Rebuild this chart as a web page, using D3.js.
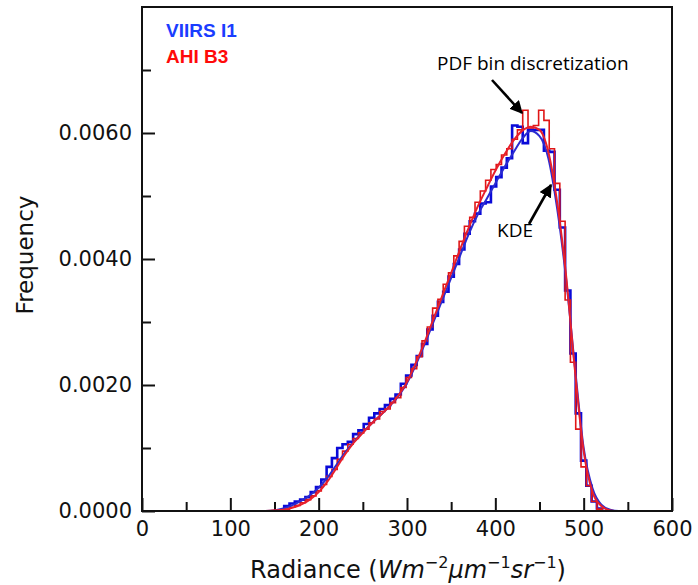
<!DOCTYPE html>
<html>
<head>
<meta charset="utf-8">
<script src="https://cdn.jsdelivr.net/npm/d3@7"></script>
<style>
  html, body { margin: 0; padding: 0; background: #ffffff; }
  svg { display: block; }
</style>
</head>
<body>
<svg id="chart" width="698" height="585"></svg>
<script>
// ---------- data ----------
const binStart = 161;
const binWidth = 6;
const viirsHist = [
  0.00008, 0.00012, 0.00015, 0.00018, 0.00022, 0.00030, 0.00038, 0.00050, 0.00070, 0.00084,
  0.00100, 0.00106, 0.00110, 0.00122, 0.00128, 0.00138, 0.00148, 0.00155, 0.00162, 0.00168,
  0.00178, 0.00185, 0.00202, 0.00215, 0.00232, 0.00246, 0.00265, 0.00288, 0.00310, 0.00332,
  0.00348, 0.00372, 0.00392, 0.00415, 0.00440, 0.00460, 0.00472, 0.00488, 0.00490, 0.00515,
  0.00530, 0.00545, 0.00560, 0.00612, 0.00610, 0.00584, 0.00605, 0.00605, 0.00605, 0.00572,
  0.00570, 0.00510, 0.00450, 0.00350, 0.00250, 0.00155, 0.00080, 0.00040, 0.00015, 0.00004
];
const ahiHist = [
  0.00003, 0.00006, 0.00009, 0.00013, 0.00018, 0.00024, 0.00032, 0.00042, 0.00055, 0.00066,
  0.00082, 0.00095, 0.00106, 0.00115, 0.00124, 0.00130, 0.00140, 0.00146, 0.00158, 0.00162,
  0.00172, 0.00180, 0.00196, 0.00212, 0.00226, 0.00245, 0.00270, 0.00292, 0.00322, 0.00336,
  0.00360, 0.00378, 0.00405, 0.00428, 0.00452, 0.00466, 0.00490, 0.00508, 0.00525, 0.00542,
  0.00550, 0.00565, 0.00575, 0.00590, 0.00605, 0.00636, 0.00608, 0.00612, 0.00636, 0.00620,
  0.00575, 0.00520, 0.00460, 0.00335, 0.00236, 0.00130, 0.00070, 0.00040, 0.00015, 0.00003
];
const kdeX = [
  140, 150, 160, 170, 180, 190, 200, 210, 220, 230, 240, 250, 260, 270, 280, 290, 300, 310, 320, 330,
  340, 350, 360, 370, 380, 390, 400, 410, 420, 430, 440, 450, 460, 470, 480, 490, 500, 510, 520, 530,
  540, 550
];
const viirsKde = [
  0, 0.00001, 0.00004, 0.00009, 0.00016, 0.00025, 0.00037, 0.00053, 0.00073, 0.00093,
  0.00110, 0.00125, 0.00139, 0.00152, 0.00166, 0.00182, 0.00203, 0.00232, 0.00265, 0.00300,
  0.00335, 0.00370, 0.00405, 0.00440, 0.00470, 0.00495, 0.00520, 0.00545, 0.00568, 0.00590,
  0.00603, 0.00595, 0.00560, 0.00480, 0.00370, 0.00230, 0.00100, 0.00036, 0.00010, 0.00002,
  0, 0
];
const ahiKde = [
  0, 0.00001, 0.00002, 0.00005, 0.00010, 0.00018, 0.00030, 0.00047, 0.00068, 0.00090,
  0.00109, 0.00124, 0.00139, 0.00152, 0.00166, 0.00183, 0.00205, 0.00235, 0.00268, 0.00305,
  0.00342, 0.00378, 0.00415, 0.00450, 0.00483, 0.00512, 0.00540, 0.00565, 0.00587, 0.00603,
  0.00610, 0.00605, 0.00570, 0.00490, 0.00375, 0.00225, 0.00095, 0.00030, 0.00008, 0.00001,
  0, 0
];
const xMajorTicks = [0, 100, 200, 300, 400, 500, 600];
const xMinorTicks = [50, 150, 250, 350, 450, 550];
const yMajorTicks = [0, 0.002, 0.004, 0.006];
const yMinorTicks = [0.001, 0.003, 0.005, 0.007];
const seriesNames = ["VIIRS I1", "AHI B3"];

// ---------- layout ----------
const svg = d3.select("#chart");
const x = d3.scaleLinear().domain([0, 600]).range([142, 672]);
const y = d3.scaleLinear().domain([0, 0.008]).range([511, 7]);

const colors = {
  viirsHist: "#0a0ad8", ahiHist: "#e01616",
  viirsKde: "#2b2bd0", ahiKde: "#e8202c",
  viirsText: "#1a3dff", ahiText: "#ff0a0a"
};

// ---------- ticks ----------
const tickFont = "'DejaVu Sans', sans-serif";
function styleAxis(g) {
  g.select(".domain").remove();
  g.selectAll(".tick line").attr("stroke", "#111").attr("stroke-width", 2);
  g.selectAll(".tick text").attr("font-family", tickFont).attr("font-size", 21).attr("fill", "#111");
}
svg.append("g").attr("transform", `translate(0,${y(0)})`)
  .call(d3.axisBottom(x).tickValues(xMajorTicks).tickSize(-13).tickPadding(10).tickFormat(d3.format("d")))
  .call(styleAxis);
svg.append("g").attr("transform", `translate(0,${y(0)})`)
  .call(d3.axisBottom(x).tickValues(xMinorTicks).tickSize(-9).tickFormat(""))
  .call(styleAxis);
svg.append("g").attr("transform", `translate(${x(0)},0)`)
  .call(d3.axisLeft(y).tickValues(yMajorTicks).tickSize(-13).tickPadding(10).tickFormat(d3.format(".4f")))
  .call(styleAxis);
svg.append("g").attr("transform", `translate(${x(0)},0)`)
  .call(d3.axisLeft(y).tickValues(yMinorTicks).tickSize(-9).tickFormat(""))
  .call(styleAxis);

// ---------- histograms (step) ----------
function stepPath(vals) {
  const p = d3.path();
  p.moveTo(x(binStart), y(0));
  vals.forEach((v, i) => {
    const x0 = binStart + i * binWidth, x1 = x0 + binWidth;
    p.lineTo(x(x0), y(v));
    p.lineTo(x(x1), y(v));
  });
  p.lineTo(x(binStart + vals.length * binWidth), y(0));
  return p.toString();
}
svg.append("path").attr("d", stepPath(viirsHist))
  .attr("fill", "none").attr("stroke", colors.viirsHist).attr("stroke-width", 2.6).attr("stroke-linejoin", "miter");
svg.append("path").attr("d", stepPath(ahiHist))
  .attr("fill", "none").attr("stroke", colors.ahiHist).attr("stroke-width", 1.6).attr("stroke-linejoin", "miter");

// ---------- KDE curves ----------
const line = d3.line().curve(d3.curveMonotoneX);
svg.append("path").attr("d", line(kdeX.map((d, i) => [x(d), y(viirsKde[i])])))
  .attr("fill", "none").attr("stroke", colors.viirsKde).attr("stroke-width", 2);
svg.append("path").attr("d", line(kdeX.map((d, i) => [x(d), y(ahiKde[i])])))
  .attr("fill", "none").attr("stroke", colors.ahiKde).attr("stroke-width", 2);

// ---------- frame ----------
svg.append("rect").attr("x", x(0)).attr("y", y(0.008))
  .attr("width", x(600) - x(0)).attr("height", y(0) - y(0.008))
  .attr("fill", "none").attr("stroke", "#111").attr("stroke-width", 2);

// ---------- legend ----------
svg.append("text").attr("x", 166).attr("y", 37).text(seriesNames[0])
  .attr("font-family", "'Liberation Sans', Arial, sans-serif").attr("font-weight", "bold")
  .attr("font-size", 19).attr("fill", colors.viirsText);
svg.append("text").attr("x", 166).attr("y", 63).text(seriesNames[1])
  .attr("font-family", "'Liberation Sans', Arial, sans-serif").attr("font-weight", "bold")
  .attr("font-size", 19).attr("fill", colors.ahiText);

// ---------- axis titles ----------
svg.append("text").attr("transform", "translate(33,255) rotate(-90)")
  .attr("text-anchor", "middle").attr("font-family", tickFont).attr("font-size", 23)
  .attr("fill", "#111").text("Frequency");

const xt = svg.append("text").attr("x", 408).attr("y", 578).attr("text-anchor", "middle")
  .attr("font-family", tickFont).attr("font-size", 24).attr("fill", "#111");
xt.append("tspan").text("Radiance (");
xt.append("tspan").attr("font-style", "italic").text("Wm");
xt.append("tspan").attr("font-size", 16).attr("dy", -10).text("−2");
xt.append("tspan").attr("font-style", "italic").attr("dy", 10).text("μm");
xt.append("tspan").attr("font-size", 16).attr("dy", -10).text("−1");
xt.append("tspan").attr("font-style", "italic").attr("dy", 10).text("sr");
xt.append("tspan").attr("font-size", 16).attr("dy", -10).text("−1");
xt.append("tspan").attr("dy", 10).text(")");

// ---------- annotations ----------
const defs = svg.append("defs");
defs.append("marker").attr("id", "arrow").attr("viewBox", "0 0 10 10")
  .attr("refX", 9).attr("refY", 5).attr("markerWidth", 5).attr("markerHeight", 5)
  .attr("markerUnits", "strokeWidth").attr("orient", "auto")
  .append("path").attr("d", "M0,0 L10,5 L0,10 z").attr("fill", "#000");

svg.append("text").attr("x", 437).attr("y", 70).text("PDF bin discretization")
  .attr("font-family", "'Open Sans', 'Liberation Sans', sans-serif").attr("font-size", 19).attr("fill", "#000");
svg.append("line").attr("x1", 492).attr("y1", 80).attr("x2", 522).attr("y2", 113)
  .attr("stroke", "#000").attr("stroke-width", 2.6).attr("marker-end", "url(#arrow)");

svg.append("text").attr("x", 497).attr("y", 237).text("KDE")
  .attr("font-family", "'Open Sans', 'Liberation Sans', sans-serif").attr("font-size", 19).attr("fill", "#000");
svg.append("line").attr("x1", 529).attr("y1", 224).attr("x2", 551).attr("y2", 185)
  .attr("stroke", "#000").attr("stroke-width", 2.6).attr("marker-end", "url(#arrow)");
</script>
</body>
</html>
